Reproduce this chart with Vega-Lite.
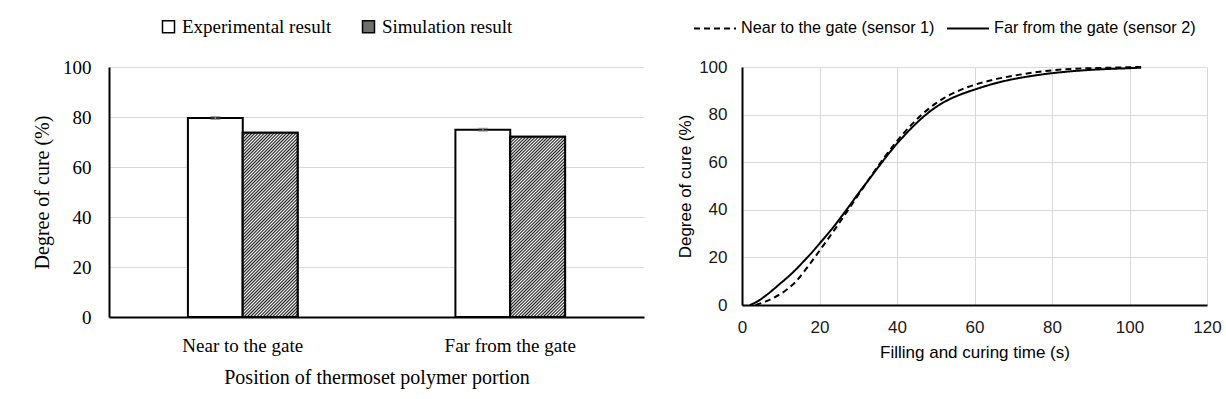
{
  "$schema": "https://vega.github.io/schema/vega-lite/v6.json",
  "background": "white",
  "padding": {"left": 32, "top": 6, "right": 5, "bottom": 5},
  "spacing": 32,
  "config": {"view": {"stroke": null}},
  "resolve": {"legend": {"fill": "independent", "strokeDash": "independent"}},
  "hconcat": [
    {
      "width": 535,
      "height": 250,
      "data": {"values": [
        {"position": "Near to the gate", "series": "Experimental result", "cure": 79.6, "lo": 79.1, "hi": 80.1},
        {"position": "Near to the gate", "series": "Simulation result", "cure": 73.7},
        {"position": "Far from the gate", "series": "Experimental result", "cure": 74.9, "lo": 74.4, "hi": 75.4},
        {"position": "Far from the gate", "series": "Simulation result", "cure": 72.1}
      ]},
      "encoding": {
        "x": {"field": "position", "type": "nominal", "sort": ["Near to the gate", "Far from the gate"],
          "scale": {"paddingInner": 0.59, "paddingOuter": 0.295},
          "title": "Position of thermoset polymer portion",
          "axis": {"labelAngle": 0, "ticks": false, "domainColor": "black", "domainWidth": 2, "labelFont": "Liberation Serif", "labelFontSize": 19, "labelColor": "black", "labelPadding": 19, "titleFont": "Liberation Serif", "titleFontSize": 20, "titleFontWeight": "normal", "titleColor": "black", "titlePadding": 12}},
        "xOffset": {"field": "series", "type": "nominal", "sort": ["Experimental result", "Simulation result"], "scale": {"paddingInner": 0, "paddingOuter": 0}}
      },
      "layer": [
        {
          "mark": {"type": "bar", "stroke": "black", "strokeWidth": 2},
          "encoding": {
            "y": {"field": "cure", "type": "quantitative", "scale": {"domain": [0, 100], "nice": false}, "title": "Degree of cure (%)",
              "axis": {"values": [0, 20, 40, 60, 80, 100], "ticks": false, "domainColor": "black", "domainWidth": 2, "gridColor": "#d9d9d9", "gridWidth": 1, "labelFont": "Liberation Serif", "labelFontSize": 19, "labelColor": "black", "labelPadding": 18, "titleFont": "Liberation Serif", "titleFontSize": 20, "titleFontWeight": "normal", "titleColor": "black", "titlePadding": 10}},
            "fill": {"field": "series", "type": "nominal", "scale": {"domain": ["Experimental result", "Simulation result"], "range": ["#ffffff", "#6e6e6e"]},
              "legend": {"orient": "none", "legendX": 39, "legendY": -61, "padding": 11, "direction": "horizontal", "columns": 2, "title": null, "symbolType": "square", "symbolSize": 144, "symbolStrokeColor": "black", "symbolStrokeWidth": 1.5, "labelFont": "Liberation Serif", "labelFontSize": 19, "labelColor": "black", "labelOffset": 4, "labelLimit": 0, "columnPadding": 27}}
          }
        },
        {
          "transform": [{"filter": "datum.series === 'Simulation result'"}],
          "mark": {"type": "bar", "stroke": "black", "strokeWidth": 2,
            "fill": {"gradient": "linear", "x1": 0, "y1": 0, "x2": 0.3585, "y2": 1.193, "stops": [
              {"offset": 0, "color": "#1a1a1a"}, {"offset": 0.0067, "color": "#ffffff"}, {"offset": 0.0133, "color": "#1a1a1a"}, {"offset": 0.02, "color": "#ffffff"}, {"offset": 0.0267, "color": "#1a1a1a"}, {"offset": 0.0333, "color": "#ffffff"}, {"offset": 0.04, "color": "#1a1a1a"}, {"offset": 0.0467, "color": "#ffffff"}, {"offset": 0.0533, "color": "#1a1a1a"}, {"offset": 0.06, "color": "#ffffff"}, {"offset": 0.0667, "color": "#1a1a1a"}, {"offset": 0.0733, "color": "#ffffff"}, {"offset": 0.08, "color": "#1a1a1a"}, {"offset": 0.0867, "color": "#ffffff"}, {"offset": 0.0933, "color": "#1a1a1a"},
              {"offset": 0.1, "color": "#ffffff"}, {"offset": 0.1067, "color": "#1a1a1a"}, {"offset": 0.1133, "color": "#ffffff"}, {"offset": 0.12, "color": "#1a1a1a"}, {"offset": 0.1267, "color": "#ffffff"}, {"offset": 0.1333, "color": "#1a1a1a"}, {"offset": 0.14, "color": "#ffffff"}, {"offset": 0.1467, "color": "#1a1a1a"}, {"offset": 0.1533, "color": "#ffffff"}, {"offset": 0.16, "color": "#1a1a1a"}, {"offset": 0.1667, "color": "#ffffff"}, {"offset": 0.1733, "color": "#1a1a1a"}, {"offset": 0.18, "color": "#ffffff"}, {"offset": 0.1867, "color": "#1a1a1a"}, {"offset": 0.1933, "color": "#ffffff"},
              {"offset": 0.2, "color": "#1a1a1a"}, {"offset": 0.2067, "color": "#ffffff"}, {"offset": 0.2133, "color": "#1a1a1a"}, {"offset": 0.22, "color": "#ffffff"}, {"offset": 0.2267, "color": "#1a1a1a"}, {"offset": 0.2333, "color": "#ffffff"}, {"offset": 0.24, "color": "#1a1a1a"}, {"offset": 0.2467, "color": "#ffffff"}, {"offset": 0.2533, "color": "#1a1a1a"}, {"offset": 0.26, "color": "#ffffff"}, {"offset": 0.2667, "color": "#1a1a1a"}, {"offset": 0.2733, "color": "#ffffff"}, {"offset": 0.28, "color": "#1a1a1a"}, {"offset": 0.2867, "color": "#ffffff"}, {"offset": 0.2933, "color": "#1a1a1a"},
              {"offset": 0.3, "color": "#ffffff"}, {"offset": 0.3067, "color": "#1a1a1a"}, {"offset": 0.3133, "color": "#ffffff"}, {"offset": 0.32, "color": "#1a1a1a"}, {"offset": 0.3267, "color": "#ffffff"}, {"offset": 0.3333, "color": "#1a1a1a"}, {"offset": 0.34, "color": "#ffffff"}, {"offset": 0.3467, "color": "#1a1a1a"}, {"offset": 0.3533, "color": "#ffffff"}, {"offset": 0.36, "color": "#1a1a1a"}, {"offset": 0.3667, "color": "#ffffff"}, {"offset": 0.3733, "color": "#1a1a1a"}, {"offset": 0.38, "color": "#ffffff"}, {"offset": 0.3867, "color": "#1a1a1a"}, {"offset": 0.3933, "color": "#ffffff"},
              {"offset": 0.4, "color": "#1a1a1a"}, {"offset": 0.4067, "color": "#ffffff"}, {"offset": 0.4133, "color": "#1a1a1a"}, {"offset": 0.42, "color": "#ffffff"}, {"offset": 0.4267, "color": "#1a1a1a"}, {"offset": 0.4333, "color": "#ffffff"}, {"offset": 0.44, "color": "#1a1a1a"}, {"offset": 0.4467, "color": "#ffffff"}, {"offset": 0.4533, "color": "#1a1a1a"}, {"offset": 0.46, "color": "#ffffff"}, {"offset": 0.4667, "color": "#1a1a1a"}, {"offset": 0.4733, "color": "#ffffff"}, {"offset": 0.48, "color": "#1a1a1a"}, {"offset": 0.4867, "color": "#ffffff"}, {"offset": 0.4933, "color": "#1a1a1a"},
              {"offset": 0.5, "color": "#ffffff"}, {"offset": 0.5067, "color": "#1a1a1a"}, {"offset": 0.5133, "color": "#ffffff"}, {"offset": 0.52, "color": "#1a1a1a"}, {"offset": 0.5267, "color": "#ffffff"}, {"offset": 0.5333, "color": "#1a1a1a"}, {"offset": 0.54, "color": "#ffffff"}, {"offset": 0.5467, "color": "#1a1a1a"}, {"offset": 0.5533, "color": "#ffffff"}, {"offset": 0.56, "color": "#1a1a1a"}, {"offset": 0.5667, "color": "#ffffff"}, {"offset": 0.5733, "color": "#1a1a1a"}, {"offset": 0.58, "color": "#ffffff"}, {"offset": 0.5867, "color": "#1a1a1a"}, {"offset": 0.5933, "color": "#ffffff"},
              {"offset": 0.6, "color": "#1a1a1a"}, {"offset": 0.6067, "color": "#ffffff"}, {"offset": 0.6133, "color": "#1a1a1a"}, {"offset": 0.62, "color": "#ffffff"}, {"offset": 0.6267, "color": "#1a1a1a"}, {"offset": 0.6333, "color": "#ffffff"}, {"offset": 0.64, "color": "#1a1a1a"}, {"offset": 0.6467, "color": "#ffffff"}, {"offset": 0.6533, "color": "#1a1a1a"}, {"offset": 0.66, "color": "#ffffff"}, {"offset": 0.6667, "color": "#1a1a1a"}, {"offset": 0.6733, "color": "#ffffff"}, {"offset": 0.68, "color": "#1a1a1a"}, {"offset": 0.6867, "color": "#ffffff"}, {"offset": 0.6933, "color": "#1a1a1a"},
              {"offset": 0.7, "color": "#ffffff"}, {"offset": 0.7067, "color": "#1a1a1a"}, {"offset": 0.7133, "color": "#ffffff"}, {"offset": 0.72, "color": "#1a1a1a"}, {"offset": 0.7267, "color": "#ffffff"}, {"offset": 0.7333, "color": "#1a1a1a"}, {"offset": 0.74, "color": "#ffffff"}, {"offset": 0.7467, "color": "#1a1a1a"}, {"offset": 0.7533, "color": "#ffffff"}, {"offset": 0.76, "color": "#1a1a1a"}, {"offset": 0.7667, "color": "#ffffff"}, {"offset": 0.7733, "color": "#1a1a1a"}, {"offset": 0.78, "color": "#ffffff"}, {"offset": 0.7867, "color": "#1a1a1a"}, {"offset": 0.7933, "color": "#ffffff"},
              {"offset": 0.8, "color": "#1a1a1a"}, {"offset": 0.8067, "color": "#ffffff"}, {"offset": 0.8133, "color": "#1a1a1a"}, {"offset": 0.82, "color": "#ffffff"}, {"offset": 0.8267, "color": "#1a1a1a"}, {"offset": 0.8333, "color": "#ffffff"}, {"offset": 0.84, "color": "#1a1a1a"}, {"offset": 0.8467, "color": "#ffffff"}, {"offset": 0.8533, "color": "#1a1a1a"}, {"offset": 0.86, "color": "#ffffff"}, {"offset": 0.8667, "color": "#1a1a1a"}, {"offset": 0.8733, "color": "#ffffff"}, {"offset": 0.88, "color": "#1a1a1a"}, {"offset": 0.8867, "color": "#ffffff"}, {"offset": 0.8933, "color": "#1a1a1a"},
              {"offset": 0.9, "color": "#ffffff"}, {"offset": 0.9067, "color": "#1a1a1a"}, {"offset": 0.9133, "color": "#ffffff"}, {"offset": 0.92, "color": "#1a1a1a"}, {"offset": 0.9267, "color": "#ffffff"}, {"offset": 0.9333, "color": "#1a1a1a"}, {"offset": 0.94, "color": "#ffffff"}, {"offset": 0.9467, "color": "#1a1a1a"}, {"offset": 0.9533, "color": "#ffffff"}, {"offset": 0.96, "color": "#1a1a1a"}, {"offset": 0.9667, "color": "#ffffff"}, {"offset": 0.9733, "color": "#1a1a1a"}, {"offset": 0.98, "color": "#ffffff"}, {"offset": 0.9867, "color": "#1a1a1a"}, {"offset": 0.9933, "color": "#ffffff"},
              {"offset": 1, "color": "#1a1a1a"}
            ]}},
          "encoding": {
            "y": {"field": "cure", "type": "quantitative", "title": "Degree of cure (%)"}
          }
        },
        {
          "transform": [{"filter": "datum.series === 'Experimental result'"}],
          "mark": {"type": "rule", "color": "#7f7f7f", "strokeWidth": 1.5},
          "encoding": {
            "y": {"field": "lo", "type": "quantitative", "title": "Degree of cure (%)"},
            "y2": {"field": "hi"}
          }
        },
        {
          "transform": [{"filter": "datum.series === 'Experimental result'"}],
          "mark": {"type": "tick", "color": "#7f7f7f", "size": 10, "thickness": 1.5},
          "encoding": {
            "y": {"field": "lo", "type": "quantitative", "title": "Degree of cure (%)"}
          }
        },
        {
          "transform": [{"filter": "datum.series === 'Experimental result'"}],
          "mark": {"type": "tick", "color": "#7f7f7f", "size": 10, "thickness": 1.5},
          "encoding": {
            "y": {"field": "hi", "type": "quantitative", "title": "Degree of cure (%)"}
          }
        }
      ]
    },
    {
      "width": 465,
      "height": 238,
      "data": {"values": [
        {"series": "Far from the gate (sensor 2)", "t": 2, "v": 0},
        {"series": "Far from the gate (sensor 2)", "t": 4, "v": 1.5},
        {"series": "Far from the gate (sensor 2)", "t": 6, "v": 3.8},
        {"series": "Far from the gate (sensor 2)", "t": 8, "v": 6.4},
        {"series": "Far from the gate (sensor 2)", "t": 10, "v": 9.2},
        {"series": "Far from the gate (sensor 2)", "t": 12, "v": 12.0},
        {"series": "Far from the gate (sensor 2)", "t": 14, "v": 15.1},
        {"series": "Far from the gate (sensor 2)", "t": 16, "v": 18.5},
        {"series": "Far from the gate (sensor 2)", "t": 18, "v": 22.0},
        {"series": "Far from the gate (sensor 2)", "t": 20, "v": 25.8},
        {"series": "Far from the gate (sensor 2)", "t": 22, "v": 29.6},
        {"series": "Far from the gate (sensor 2)", "t": 24, "v": 33.6},
        {"series": "Far from the gate (sensor 2)", "t": 26, "v": 37.9},
        {"series": "Far from the gate (sensor 2)", "t": 28, "v": 42.3},
        {"series": "Far from the gate (sensor 2)", "t": 30, "v": 46.8},
        {"series": "Far from the gate (sensor 2)", "t": 32, "v": 51.1},
        {"series": "Far from the gate (sensor 2)", "t": 34, "v": 55.4},
        {"series": "Far from the gate (sensor 2)", "t": 36, "v": 59.7},
        {"series": "Far from the gate (sensor 2)", "t": 38, "v": 63.9},
        {"series": "Far from the gate (sensor 2)", "t": 40, "v": 67.8},
        {"series": "Far from the gate (sensor 2)", "t": 42, "v": 71.4},
        {"series": "Far from the gate (sensor 2)", "t": 44, "v": 74.8},
        {"series": "Far from the gate (sensor 2)", "t": 46, "v": 77.9},
        {"series": "Far from the gate (sensor 2)", "t": 48, "v": 80.7},
        {"series": "Far from the gate (sensor 2)", "t": 50, "v": 83.1},
        {"series": "Far from the gate (sensor 2)", "t": 52, "v": 85.1},
        {"series": "Far from the gate (sensor 2)", "t": 54, "v": 86.8},
        {"series": "Far from the gate (sensor 2)", "t": 56, "v": 88.2},
        {"series": "Far from the gate (sensor 2)", "t": 58, "v": 89.4},
        {"series": "Far from the gate (sensor 2)", "t": 60, "v": 90.5},
        {"series": "Far from the gate (sensor 2)", "t": 65, "v": 93.0},
        {"series": "Far from the gate (sensor 2)", "t": 70, "v": 94.9},
        {"series": "Far from the gate (sensor 2)", "t": 75, "v": 96.3},
        {"series": "Far from the gate (sensor 2)", "t": 80, "v": 97.4},
        {"series": "Far from the gate (sensor 2)", "t": 85, "v": 98.2},
        {"series": "Far from the gate (sensor 2)", "t": 90, "v": 98.8},
        {"series": "Far from the gate (sensor 2)", "t": 95, "v": 99.2},
        {"series": "Far from the gate (sensor 2)", "t": 100, "v": 99.5},
        {"series": "Far from the gate (sensor 2)", "t": 103, "v": 99.7},
        {"series": "Near to the gate (sensor 1)", "t": 3.5, "v": 0},
        {"series": "Near to the gate (sensor 1)", "t": 6, "v": 1.4},
        {"series": "Near to the gate (sensor 1)", "t": 8, "v": 2.9},
        {"series": "Near to the gate (sensor 1)", "t": 10, "v": 4.7},
        {"series": "Near to the gate (sensor 1)", "t": 12, "v": 7.0},
        {"series": "Near to the gate (sensor 1)", "t": 14, "v": 10.0},
        {"series": "Near to the gate (sensor 1)", "t": 16, "v": 14.0},
        {"series": "Near to the gate (sensor 1)", "t": 18, "v": 18.3},
        {"series": "Near to the gate (sensor 1)", "t": 20, "v": 22.8},
        {"series": "Near to the gate (sensor 1)", "t": 22, "v": 27.3},
        {"series": "Near to the gate (sensor 1)", "t": 24, "v": 31.9},
        {"series": "Near to the gate (sensor 1)", "t": 26, "v": 36.6},
        {"series": "Near to the gate (sensor 1)", "t": 28, "v": 41.4},
        {"series": "Near to the gate (sensor 1)", "t": 30, "v": 46.2},
        {"series": "Near to the gate (sensor 1)", "t": 32, "v": 51.0},
        {"series": "Near to the gate (sensor 1)", "t": 34, "v": 55.8},
        {"series": "Near to the gate (sensor 1)", "t": 36, "v": 60.4},
        {"series": "Near to the gate (sensor 1)", "t": 38, "v": 64.8},
        {"series": "Near to the gate (sensor 1)", "t": 40, "v": 68.9},
        {"series": "Near to the gate (sensor 1)", "t": 42, "v": 72.7},
        {"series": "Near to the gate (sensor 1)", "t": 44, "v": 76.2},
        {"series": "Near to the gate (sensor 1)", "t": 46, "v": 79.4},
        {"series": "Near to the gate (sensor 1)", "t": 48, "v": 82.2},
        {"series": "Near to the gate (sensor 1)", "t": 50, "v": 84.7},
        {"series": "Near to the gate (sensor 1)", "t": 52, "v": 86.8},
        {"series": "Near to the gate (sensor 1)", "t": 54, "v": 88.6},
        {"series": "Near to the gate (sensor 1)", "t": 56, "v": 90.1},
        {"series": "Near to the gate (sensor 1)", "t": 58, "v": 91.4},
        {"series": "Near to the gate (sensor 1)", "t": 60, "v": 92.5},
        {"series": "Near to the gate (sensor 1)", "t": 65, "v": 94.7},
        {"series": "Near to the gate (sensor 1)", "t": 70, "v": 96.3},
        {"series": "Near to the gate (sensor 1)", "t": 75, "v": 97.6},
        {"series": "Near to the gate (sensor 1)", "t": 80, "v": 98.6},
        {"series": "Near to the gate (sensor 1)", "t": 85, "v": 99.2},
        {"series": "Near to the gate (sensor 1)", "t": 90, "v": 99.5},
        {"series": "Near to the gate (sensor 1)", "t": 95, "v": 99.7},
        {"series": "Near to the gate (sensor 1)", "t": 100, "v": 99.9},
        {"series": "Near to the gate (sensor 1)", "t": 103, "v": 100}
      ]},
      "mark": {"type": "line", "color": "black", "strokeWidth": 2, "interpolate": "monotone"},
      "encoding": {
        "x": {"field": "t", "type": "quantitative", "scale": {"domain": [0, 120], "nice": false}, "title": "Filling and curing time (s)",
          "axis": {"values": [0, 20, 40, 60, 80, 100, 120], "ticks": false, "domainColor": "black", "domainWidth": 2, "gridColor": "#d9d9d9", "gridWidth": 1, "labelFont": "Liberation Sans", "labelFontSize": 17, "labelColor": "#1a1a1a", "labelPadding": 14, "labelFlush": false, "titleFont": "Liberation Sans", "titleFontSize": 17, "titleFontWeight": "normal", "titleColor": "black", "titlePadding": 9}},
        "y": {"field": "v", "type": "quantitative", "scale": {"domain": [0, 100], "nice": false}, "title": "Degree of cure (%)",
          "axis": {"values": [0, 20, 40, 60, 80, 100], "ticks": false, "domainColor": "black", "domainWidth": 2, "gridColor": "#d9d9d9", "gridWidth": 1, "labelFont": "Liberation Sans", "labelFontSize": 17, "labelColor": "#1a1a1a", "labelPadding": 15, "titleFont": "Liberation Sans", "titleFontSize": 17, "titleFontWeight": "normal", "titleColor": "black", "titlePadding": 4}},
        "strokeDash": {"field": "series", "type": "nominal",
          "scale": {"domain": ["Near to the gate (sensor 1)", "Far from the gate (sensor 2)"], "range": [[6, 4], [1, 0]]},
          "legend": {"orient": "none", "legendX": -49, "legendY": -61, "direction": "horizontal", "columns": 2, "title": null, "symbolType": "stroke", "symbolSize": 1764, "symbolStrokeColor": "black", "symbolStrokeWidth": 2, "labelFont": "Liberation Sans", "labelFontSize": 16.2, "labelColor": "black", "labelOffset": 4, "labelLimit": 0, "columnPadding": 8}}
      }
    }
  ]
}
